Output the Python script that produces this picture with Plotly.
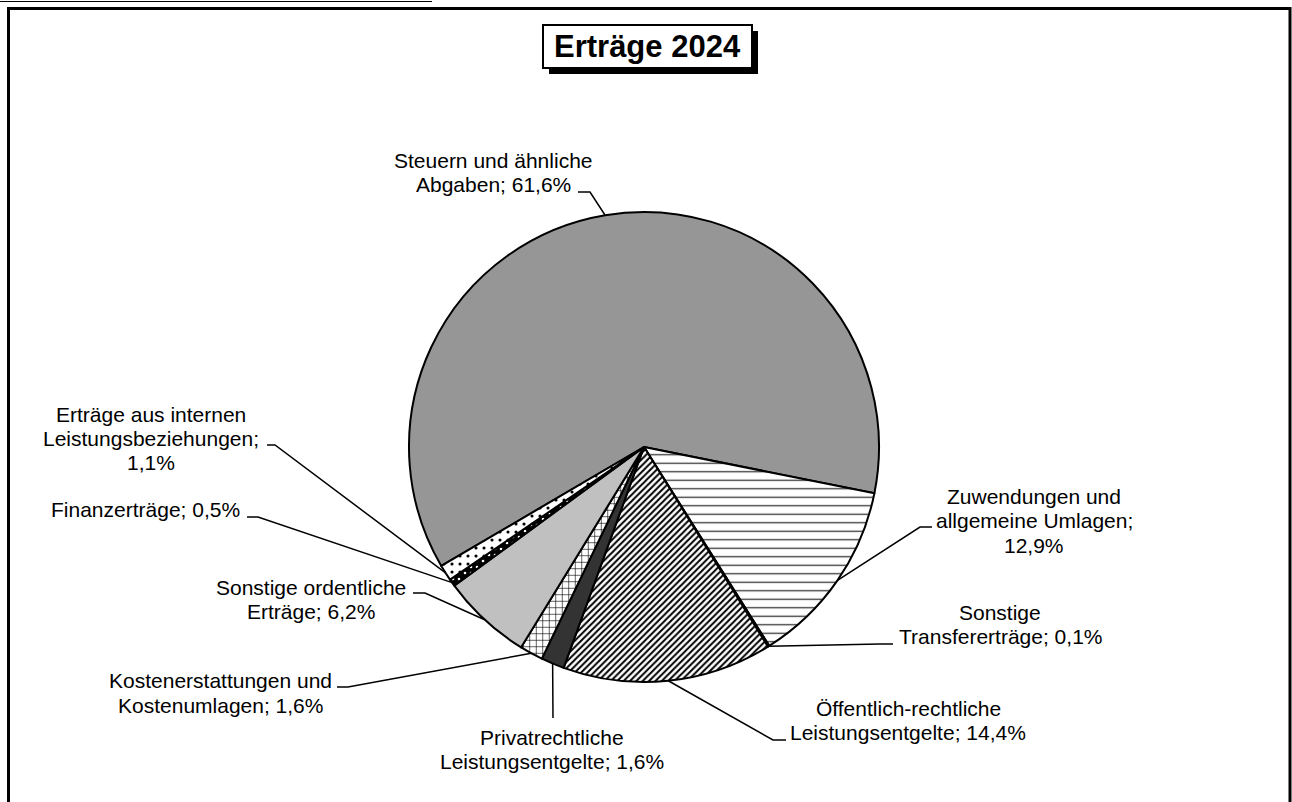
import math
import plotly.graph_objects as go

# ---------------- data ----------------
categories = [
    "Steuern und ähnliche Abgaben",
    "Zuwendungen und allgemeine Umlagen",
    "Sonstige Transfererträge",
    "Öffentlich-rechtliche Leistungsentgelte",
    "Privatrechtliche Leistungsentgelte",
    "Kostenerstattungen und Kostenumlagen",
    "Sonstige ordentliche Erträge",
    "Finanzerträge",
    "Erträge aus internen Leistungsbeziehungen",
]
shares = [61.6, 12.9, 0.1, 14.4, 1.6, 1.6, 6.2, 0.5, 1.1]
label_templates = [
    ["Steuern und ähnliche", "Abgaben; {p}"],
    ["Zuwendungen und", "allgemeine Umlagen;", "{p}"],
    ["Sonstige", "Transfererträge; {p}"],
    ["Öffentlich-rechtliche", "Leistungsentgelte; {p}"],
    ["Privatrechtliche", "Leistungsentgelte; {p}"],
    ["Kostenerstattungen und", "Kostenumlagen; {p}"],
    ["Sonstige ordentliche", "Erträge; {p}"],
    ["Finanzerträge; {p}"],
    ["Erträge aus internen", "Leistungsbeziehungen;", "{p}"],
]
title_text = "Erträge 2024"

# ---------------- layout / style ----------------
W, H = 1292, 802
CX, CY, R = 644, 447, 235
ROTATION = 239.6          # start angle of first slice, clockwise from 12 o'clock
FONT = "Liberation Sans, Arial, sans-serif"
FS = 21

fill_colors = ["#969696", "white", "white", "white", "#333333", "white", "#C0C0C0", "black", "white"]
pat_shapes = ["", "-", "", "/", "", "+", "", ".", "."]
pat_fg = ["black", "#333333", "black", "black", "black", "black", "black", "white", "black"]
pat_size = [8, 8.5, 8, 4.5, 8, 6.5, 8, 6, 8]
pat_solid = [0.3, 0.15, 0.3, 0.45, 0.3, 0.18, 0.3, 0.15, 0.12]

# label placement: text centre x, baselines, elbow point and end of horizontal stub
label_cx = [493, 1034, 1000, 908, 552, 220, 311, 145, 151]
label_baselines = [[168, 192], [504, 528, 553], [620, 644], [716, 740], [745, 769],
                   [688, 713], [595, 619], [517], [422, 446, 470]]
elbows = [(590, 192), (920, 527), (880, 644), (773, 740), (553, 718),
          (348, 687), (425, 593), (258, 517), (275, 445)]
stub_end = [578, 932, 893, 786, 553, 337, 413, 247, 267]


def px(x):
    return x / W


def py(y):
    return 1 - y / H


def fmt_pct(v):
    return f"{v:.1f}".replace(".", ",") + "%"


fig = go.Figure()
fig.add_trace(go.Pie(
    labels=categories,
    values=shares,
    sort=False,
    direction="clockwise",
    rotation=ROTATION,
    textinfo="none",
    hoverinfo="none",
    showlegend=False,
    domain=dict(x=[px(CX - R), px(CX + R)], y=[py(CY + R), py(CY - R)]),
    marker=dict(
        colors=fill_colors,
        line=dict(color="black", width=2),
        pattern=dict(shape=pat_shapes, fgcolor=pat_fg, bgcolor=fill_colors,
                     size=pat_size, solidity=pat_solid, fillmode="replace"),
    ),
))

shapes = []
annotations = []

# leader lines computed from slice mid angles
total = sum(shares)
cum = 0.0
for i, v in enumerate(shares):
    mid = ROTATION + 360.0 * (cum + v / 2) / total
    cum += v
    a = math.radians(mid)
    sx = CX + R * math.sin(a)
    sy = CY - R * math.cos(a)
    ex, ey = elbows[i]
    path = f"M {px(sx)},{py(sy)} L {px(ex)},{py(ey)} L {px(stub_end[i])},{py(ey)}"
    shapes.append(dict(type="path", xref="paper", yref="paper", path=path,
                       line=dict(color="black", width=1.5)))
    for tmpl, base in zip(label_templates[i], label_baselines[i]):
        annotations.append(dict(
            x=px(label_cx[i]), y=py(base - 0.35 * FS), xref="paper", yref="paper",
            text=tmpl.format(p=fmt_pct(v)), showarrow=False,
            xanchor="center", yanchor="middle",
            font=dict(family=FONT, size=FS, color="black")))

# outer frame and top rule
shapes.append(dict(type="line", xref="paper", yref="paper",
                   x0=px(0), x1=px(432), y0=py(1.5), y1=py(1.5),
                   line=dict(color="black", width=1)))
shapes.append(dict(type="rect", xref="paper", yref="paper",
                   x0=px(8.5), x1=px(1290), y0=py(812), y1=py(8.5),
                   line=dict(color="black", width=3), fillcolor="rgba(0,0,0,0)"))

# title box with shadow
shapes.append(dict(type="rect", xref="paper", yref="paper",
                   x0=px(549), x1=px(758), y0=py(74), y1=py(31),
                   line=dict(color="black", width=0), fillcolor="black"))
shapes.append(dict(type="rect", xref="paper", yref="paper",
                   x0=px(543), x1=px(752), y0=py(68), y1=py(25),
                   line=dict(color="black", width=2), fillcolor="white"))
annotations.append(dict(x=px(647.5), y=py(57 - 0.35 * 31), xref="paper", yref="paper",
                        text=f"<b>{title_text}</b>", showarrow=False,
                        xanchor="center", yanchor="middle",
                        font=dict(family=FONT, size=31, color="black")))

fig.update_layout(
    width=W, height=H,
    margin=dict(l=0, r=0, t=0, b=0),
    paper_bgcolor="white", plot_bgcolor="white",
    shapes=shapes, annotations=annotations,
    showlegend=False,
)

fig.write_html("out.html", config={"displayModeBar": False},
               post_script="document.body.style.margin='0';")
